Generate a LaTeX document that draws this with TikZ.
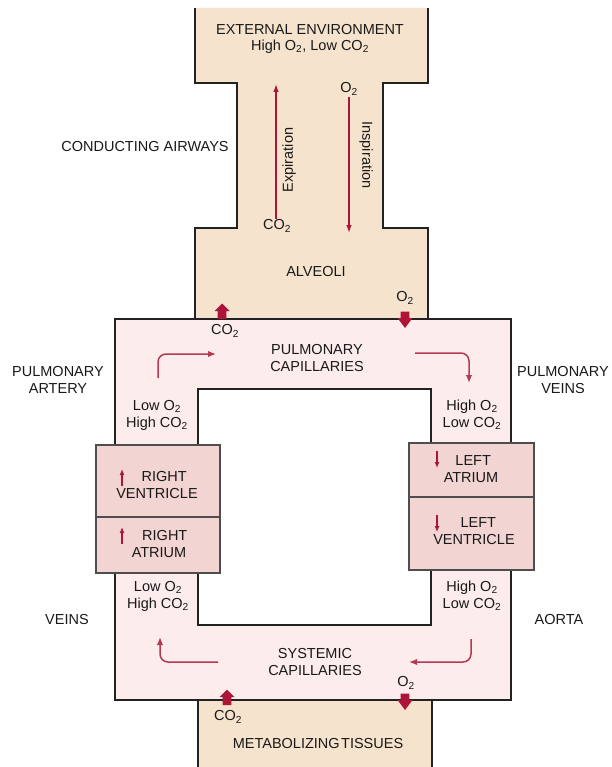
\documentclass[tikz,border=0pt]{standalone}
\usepackage{fontspec}
\setmainfont{Liberation Sans}
\usetikzlibrary{arrows.meta}
\definecolor{tanc}{RGB}{245,227,205}
\definecolor{pinkc}{RGB}{252,236,236}
\definecolor{heartc}{RGB}{242,212,210}
\definecolor{redc}{RGB}{172,20,56}
\definecolor{curvc}{RGB}{180,58,84}
\definecolor{linec}{RGB}{34,34,34}
\definecolor{txtc}{RGB}{25,25,25}
\newcommand{\Otw}{O\textsubscript{2}}
\newcommand{\COtw}{CO\textsubscript{2}}
\begin{document}
\begin{tikzpicture}[x=1pt,y=-1pt,
  lbl/.style={font=\fontsize{14.5}{17}\selectfont, text=txtc, inner sep=0pt, align=center},
  wall/.style={draw=linec, line width=2pt},
  tanwall/.style={draw=linec, line width=1.5pt},
  heartbox/.style={fill=heartc, draw=linec!80, line width=1.3pt},
  gasflow/.style={draw=redc, line width=1.3pt, -{Latex[length=8pt,width=5.5pt]}},
  bloodflow/.style={draw=curvc, line width=1.5pt, rounded corners=8pt, -{Latex[length=8pt,width=6.5pt]}},
  smallarr/.style={draw=redc, line width=1.3pt, -{Latex[length=6pt,width=5pt]}},
  blkup/.pic={\fill[redc] (-7.5,0) -- (0,-7.5) -- (7.5,0) -- (4.3,0) -- (4.3,8) -- (-4.3,8) -- (-4.3,0) -- cycle;},
  blkdown/.pic={\fill[redc] (-7.5,0) -- (0,10) -- (7.5,0) -- (4.3,0) -- (4.3,-6.5) -- (-4.3,-6.5) -- (-4.3,0) -- cycle;}
]
\useasboundingbox (0,0) rectangle (611,767);
\fill[white] (0,0) rectangle (611,767);

% circulation ring
\fill[pinkc] (115,319) rectangle (511,700);
\fill[white] (198,389) rectangle (431,625);
\draw[wall] (115,319) rectangle (511,700);
\draw[wall] (198,389) rectangle (431,625);

% upper tan I-shape (environment, airways, alveoli)
\fill[tanc] (195,8) -- (195,83) -- (237,83) -- (237,228) -- (195,228) -- (195,319)
  -- (428,319) -- (428,228) -- (383,228) -- (383,83) -- (428,83) -- (428,8) -- cycle;
\draw[tanwall] (195,8) -- (195,83) -- (237,83) -- (237,228) -- (195,228) -- (195,319);
\draw[tanwall] (428,8) -- (428,83) -- (383,83) -- (383,228) -- (428,228) -- (428,319);
\draw[wall] (115,319) -- (511,319);

% metabolizing tissues
\fill[tanc] (198,701) rectangle (432,767);
\draw[tanwall] (198,700) -- (198,767);
\draw[tanwall] (432,700) -- (432,767);
\draw[wall] (115,700) -- (511,700);

% heart chambers
\draw[heartbox] (96,445) rectangle (220,517);
\draw[heartbox] (96,517) rectangle (220,573);
\draw[heartbox] (409,443) rectangle (534,497);
\draw[heartbox] (409,497) rectangle (534,570);

% texts
\node[lbl] (ext) at (310,30) {EXTERNAL ENVIRONMENT};
\node[lbl] (extgas) at (310,47) {High \Otw, Low \COtw};
\node[lbl] (airways) at (145,147) {CONDUCTING AIRWAYS};
\node[lbl] (co2exp) at (277,226) {\COtw};
\node[lbl] (o2insp) at (349,89) {\Otw};
\node[lbl, rotate=90] (expir) at (289,160) {Expiration};
\node[lbl, rotate=-90] (inspir) at (366,155) {Inspiration};
\node[lbl] (alv) at (316,272) {ALVEOLI};
\node[lbl] (o2alv) at (405,298) {\Otw};
\node[lbl] (co2alv) at (225,331) {\COtw};
\node[lbl] (pulcap) at (317,358) {PULMONARY\\CAPILLARIES};
\node[lbl] (pa) at (58,380) {PULMONARY\\ARTERY};
\node[lbl] (pv) at (563,380) {PULMONARY\\VEINS};
\node[lbl] (lowtop) at (157,415) {Low \Otw\\High \COtw};
\node[lbl] (hightop) at (472,415) {High \Otw\\Low \COtw};
\node[lbl] (rv) at (157,485) {\hspace*{1em}RIGHT\\VENTRICLE};
\node[lbl] (ra) at (159,544) {\hspace*{0.8em}RIGHT\\ATRIUM};
\node[lbl] (la) at (471,469) {\hspace*{0.3em}LEFT\\ATRIUM};
\node[lbl] (lv) at (474,531) {\hspace*{0.6em}LEFT\\VENTRICLE};
\node[lbl] (lowbot) at (158,596) {Low \Otw\\High \COtw};
\node[lbl] (highbot) at (472,596) {High \Otw\\Low \COtw};
\node[lbl] (veins) at (67,620) {VEINS};
\node[lbl] (aorta) at (559,620) {AORTA};
\node[lbl] (syscap) at (315,662) {SYSTEMIC\\CAPILLARIES};
\node[lbl] (o2tis) at (406,683) {\Otw};
\node[lbl] (co2tis) at (228,717) {\COtw};
\node[lbl] (tis) at (318,743) {METABOLIZING\hspace{0.1em}TISSUES};

% ventilation arrows
\coordinate (exptop) at (276,84);
\coordinate (inspbot) at (349,233);
\draw[gasflow] (co2exp.north) ++(-1,-1) -- (exptop);
\draw[gasflow] (o2insp.south) ++(0,2) -- (inspbot);

% block gas-exchange arrows
\pic at (222,311) {blkup};
\pic at (405,318) {blkdown};
\pic at (227,697) {blkup};
\pic at (405,700) {blkdown};

% blood flow arrows
\coordinate (f1a) at (158,378); \coordinate (f1b) at (158,354); \coordinate (f1c) at (216,354);
\draw[bloodflow] (f1a) -- (f1b) -- (f1c);
\coordinate (f2a) at (415,353); \coordinate (f2b) at (469,353); \coordinate (f2c) at (469,383);
\draw[bloodflow] (f2a) -- (f2b) -- (f2c);
\coordinate (f3a) at (471,639); \coordinate (f3b) at (471,662); \coordinate (f3c) at (409,662);
\draw[bloodflow] (f3a) -- (f3b) -- (f3c);
\coordinate (f4a) at (218,662); \coordinate (f4b) at (160,662); \coordinate (f4c) at (160,637);
\draw[bloodflow] (f4a) -- (f4b) -- (f4c);

% small chamber arrows
\coordinate (rvb) at (122,486); \coordinate (rvt) at (122,469);
\draw[smallarr] (rvb) -- (rvt);
\coordinate (rab) at (122,544); \coordinate (rat) at (122,527);
\draw[smallarr] (rab) -- (rat);
\coordinate (lat) at (437,451); \coordinate (lab) at (437,468);
\draw[smallarr] (lat) -- (lab);
\coordinate (lvt) at (437,515); \coordinate (lvb) at (437,532);
\draw[smallarr] (lvt) -- (lvb);
\end{tikzpicture}
\end{document}
